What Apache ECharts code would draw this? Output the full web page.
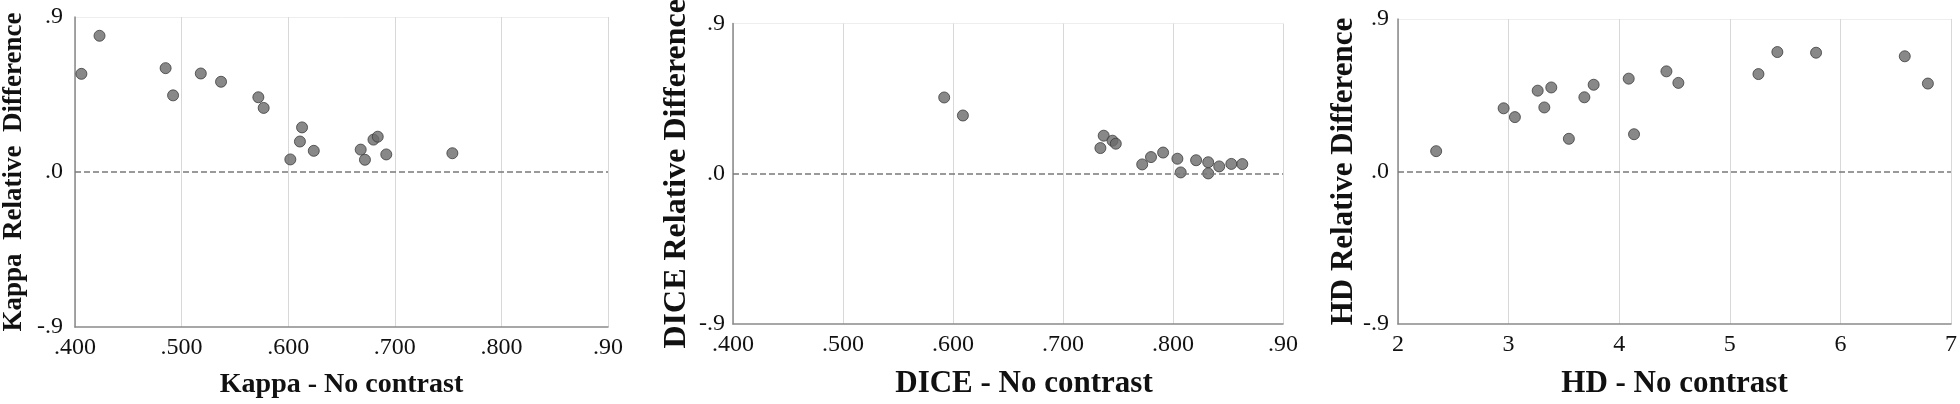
<!DOCTYPE html>
<html>
<head>
<meta charset="utf-8">
<script src="https://cdn.jsdelivr.net/npm/echarts@6/dist/echarts.min.js"></script>
<style>
  html, body { margin: 0; padding: 0; background: #fff; }
  #main { width: 1960px; height: 404px; }
</style>
</head>
<body>
<div id="main"></div>
<script>
// Kappa panel
var kappaX = [0.406, 0.423, 0.485, 0.492, 0.518, 0.537, 0.572, 0.577, 0.613, 0.611, 0.602, 0.624, 0.668, 0.672, 0.680, 0.684, 0.692, 0.754];
var kappaY = [0.570, 0.791, 0.603, 0.445, 0.572, 0.524, 0.434, 0.372, 0.259, 0.177, 0.073, 0.123, 0.130, 0.071, 0.188, 0.205, 0.102, 0.109];
// DICE panel
var diceX = [0.592, 0.609, 0.737, 0.734, 0.745, 0.748, 0.772, 0.780, 0.791, 0.804, 0.807, 0.821, 0.832, 0.832, 0.842, 0.853, 0.863];
var diceY = [0.457, 0.349, 0.228, 0.154, 0.198, 0.180, 0.056, 0.100, 0.127, 0.090, 0.008, 0.081, 0.069, 0.002, 0.044, 0.059, 0.058];
// HD panel
var hdX = [2.345, 2.955, 3.057, 3.263, 3.323, 3.386, 3.545, 3.685, 3.769, 4.086, 4.134, 4.427, 4.535, 5.259, 5.430, 5.780, 6.582, 6.791];
var hdY = [0.120, 0.373, 0.321, 0.477, 0.378, 0.496, 0.193, 0.438, 0.512, 0.548, 0.220, 0.591, 0.523, 0.575, 0.705, 0.701, 0.680, 0.519];

var ratioTicks = ['.400', '.500', '.600', '.700', '.800', '.90'];
var hdTicks = ['2', '3', '4', '5', '6', '7'];
var yTicks = ['-.9', '.0', '.9'];

var FONT = 'Liberation Serif';

function zip(xs, ys) {
  var res = [];
  for (var i = 0; i < xs.length; i++) res.push([xs[i], ys[i]]);
  return res;
}

function makeX(idx, min, max, interval, ticks, name, nameSize, namePad) {
  return {
    gridIndex: idx,
    type: 'value',
    min: min, max: max, interval: interval,
    name: name,
    nameLocation: 'middle',
    nameGap: 44,
    nameTextStyle: { fontFamily: FONT, fontWeight: 'bold', fontSize: nameSize, color: '#111', padding: namePad },
    axisLine: { show: true, onZero: false, lineStyle: { color: '#8a8a8a', width: 1.5 } },
    axisTick: { show: false },
    axisLabel: {
      fontFamily: FONT, fontSize: 24, color: '#111', margin: 9,
      formatter: function (v) { return ticks[Math.round((v - min) / interval)]; }
    },
    splitLine: { show: true, lineStyle: { color: '#d8d8d8', width: 1 } }
  };
}

function makeY(idx, name, nameSize, nameGap, margin) {
  return {
    gridIndex: idx,
    type: 'value',
    min: -0.9, max: 0.9, interval: 0.9,
    name: name,
    nameLocation: 'middle',
    nameRotate: 90,
    nameGap: nameGap,
    nameTextStyle: { fontFamily: FONT, fontWeight: 'bold', fontSize: nameSize, color: '#111' },
    axisLine: { show: true, onZero: false, lineStyle: { color: '#8a8a8a', width: 1.5 } },
    axisTick: { show: false },
    axisLabel: {
      fontFamily: FONT, fontSize: 24, color: '#111', margin: margin,
      padding: [14, 0, 0, 0],
      formatter: function (v) { return yTicks[Math.round(v / 0.9) + 1]; }
    },
    // only the top (.9) split line is visible in the original; zero gets the dashed line
    splitLine: { show: true, lineStyle: { color: ['#ffffff', '#ffffff', '#eeeeee'], width: 1 } }
  };
}

function makeSeries(idx, data) {
  return {
    type: 'scatter',
    xAxisIndex: idx,
    yAxisIndex: idx,
    data: data,
    symbolSize: 11,
    itemStyle: { color: '#6a6a6a', borderColor: '#3c3c3c', borderWidth: 1 },
    markLine: {
      silent: true,
      symbol: ['none', 'none'],
      label: { show: false },
      lineStyle: { color: '#7a7a7a', type: 'dashed', width: 1.5 },
      emphasis: { disabled: true },
      data: [{ yAxis: 0 }]
    }
  };
}

var myChart = echarts.init(document.getElementById('main'));
var option = {
  animation: false,
  grid: [
    { left: 72, top: 17, width: 536, height: 313 },
    { left: 733, top: 17, width: 550, height: 313 },
    { left: 1398, top: 19, width: 557, height: 312 }
  ],
  xAxis: [
    makeX(0, 0.4, 0.9, 0.1, ratioTicks, 'Kappa - No contrast', 28, [0, 0, 0, 0]),
    makeX(1, 0.4, 0.9, 0.1, ratioTicks, 'DICE - No contrast', 31, [0, 0, 0, 32]),
    makeX(2, 2, 7, 1, hdTicks, 'HD - No contrast', 31, [0, 0, 0, 0])
  ],
  yAxis: [
    makeY(0, 'Kappa  Relative  Difference', 27, 47, 12),
    makeY(1, 'DICE Relative Difference', 32, 40, 8),
    makeY(2, 'HD Relative Difference', 31, 38, 9)
  ],
  series: [
    makeSeries(0, zip(kappaX, kappaY)),
    makeSeries(1, zip(diceX, diceY)),
    makeSeries(2, zip(hdX, hdY))
  ]
};
myChart.setOption(option);
</script>
</body>
</html>
